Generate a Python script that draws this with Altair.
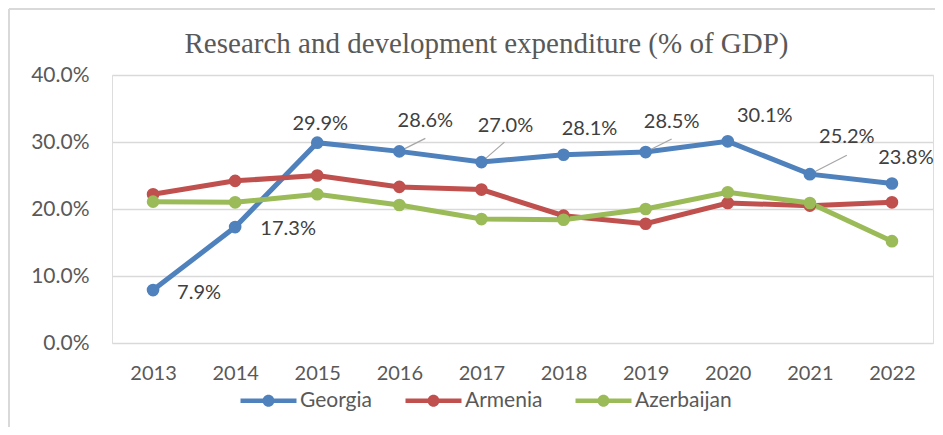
import altair as alt
import pandas as pd

# ---------------- data ----------------
years = [2013, 2014, 2015, 2016, 2017, 2018, 2019, 2020, 2021, 2022]
countries = ["Georgia", "Armenia", "Azerbaijan"]
georgia = [7.9, 17.3, 29.9, 28.6, 27.0, 28.1, 28.5, 30.1, 25.2, 23.8]
armenia = [22.2, 24.2, 25.0, 23.3, 22.9, 19.0, 17.8, 20.9, 20.5, 21.0]
azerbaijan = [21.1, 21.0, 22.2, 20.6, 18.5, 18.4, 20.0, 22.5, 20.9, 15.2]
y_ticks = [0, 10, 20, 30, 40]
title_text = "Research and development expenditure (% of GDP)"

# ---------------- layout / style ----------------
colors = ["#4F81BD", "#C0504D", "#9BBB59"]
W, H = 821, 268
PX_PER_YEAR = W / 10.0
PX_PER_PCT = H / 40.0
FONT = "Lato"
TXT = "#595959"
# pixel offsets of Georgia data labels (dx, dy) from their points
label_offsets = [(46, 3), (53, 2), (3, -19), (26, -30), (24, -36),
                 (26, -26), (26, -30), (37, -25), (37, -37), (14, -26)]
# leader line end offsets (px) for labels that have one
leader_offsets = {2016: (26, -13), 2017: (23, -20), 2019: (26, -13), 2021: (37, -19)}

series = {"Georgia": georgia, "Armenia": armenia, "Azerbaijan": azerbaijan}
rows = []
for c in countries:
    for y, v in zip(years, series[c]):
        rows.append({"year": y, "country": c, "value": v})
df = pd.DataFrame(rows)

x_enc = alt.X("year:Q", scale=alt.Scale(domain=[2012.5, 2022.5], nice=False, zero=False),
              axis=alt.Axis(values=years, format="d", grid=False, domain=False, ticks=False,
                            labelPadding=20, labelFontSize=20, labelFont=FONT,
                            labelColor=TXT, title=None))
y_enc = alt.Y("value:Q", scale=alt.Scale(domain=[0, 40], nice=False),
              axis=alt.Axis(values=y_ticks, labelExpr="format(datum.value, '.1f') + '%'",
                            grid=True, gridColor="#d9d9d9", gridWidth=1.5,
                            domain=False, ticks=False, labelPadding=23,
                            labelFontSize=21, labelFont=FONT, labelColor=TXT, title=None))

legend_symbol = ("M-2.8,-0.22 L2.8,-0.22 L2.8,0.22 L-2.8,0.22 Z "
                 "M-0.6,0 A0.6,0.6 0 1,1 0.6,0 A0.6,0.6 0 1,1 -0.6,0 Z")
color_enc = alt.Color("country:N", sort=countries,
                      scale=alt.Scale(domain=countries, range=colors),
                      legend=alt.Legend(orient="none", direction="horizontal", title=None,
                                        legendX=146, legendY=H + 47,
                                        symbolType=legend_symbol, symbolSize=400,
                                        symbolStrokeWidth=0, labelOffset=21,
                                        labelFontSize=21, labelFont=FONT, labelColor=TXT,
                                        columnPadding=32))

base = alt.Chart(df)
lines = base.mark_line(strokeWidth=5).encode(x=x_enc, y=y_enc, color=color_enc)
points = base.mark_point(filled=True, size=160, opacity=1).encode(x=x_enc, y=y_enc, color=color_enc)

# leader lines
lrows = []
for y, v in zip(years, georgia):
    if y in leader_offsets:
        ldx, ldy = leader_offsets[y]
        lrows.append({"year": y, "value": v,
                      "x2": y + ldx / PX_PER_YEAR, "y2": v - ldy / PX_PER_PCT})
leaders = alt.Chart(pd.DataFrame(lrows)).mark_rule(color="#a6a6a6", strokeWidth=1.2).encode(
    x="year:Q", y="value:Q", x2="x2:Q", y2="y2:Q")

# data labels
gdf = df[df.country == "Georgia"].reset_index(drop=True)
gdf["label"] = gdf["value"].map(lambda v: f"{v:.1f}%")
label_layers = []
for i, (ddx, ddy) in enumerate(label_offsets):
    label_layers.append(
        alt.Chart(gdf.iloc[[i]]).mark_text(dx=ddx, dy=ddy, fontSize=20, font=FONT,
                                           color="#404040").encode(
            x="year:Q", y="value:Q", text="label:N"))

# chart frame (decoration)
frame_left = alt.Chart(df).mark_rule(color="#d9d9d9", strokeWidth=1.5).encode(
    x=alt.value(-103), y=alt.value(-66), y2=alt.value(H + 90))
frame_top = alt.Chart(df).mark_rule(color="#d9d9d9", strokeWidth=1.5).encode(
    x=alt.value(-103), x2=alt.value(W + 10), y=alt.value(-66))

chart = alt.layer(frame_left, frame_top, lines, leaders, points, *label_layers).properties(
    width=W, height=H,
    title=alt.TitleParams(title_text, font="Liberation Serif", fontSize=29,
                          fontWeight="normal", color=TXT, anchor="middle", dx=-36, offset=-51),
    autosize="none",
    padding={"left": 104, "top": 67, "right": 2, "bottom": 84},
).configure_view(stroke=None).configure(background="white")

chart.save("out.html", embed_options={"renderer": "svg", "actions": False})
